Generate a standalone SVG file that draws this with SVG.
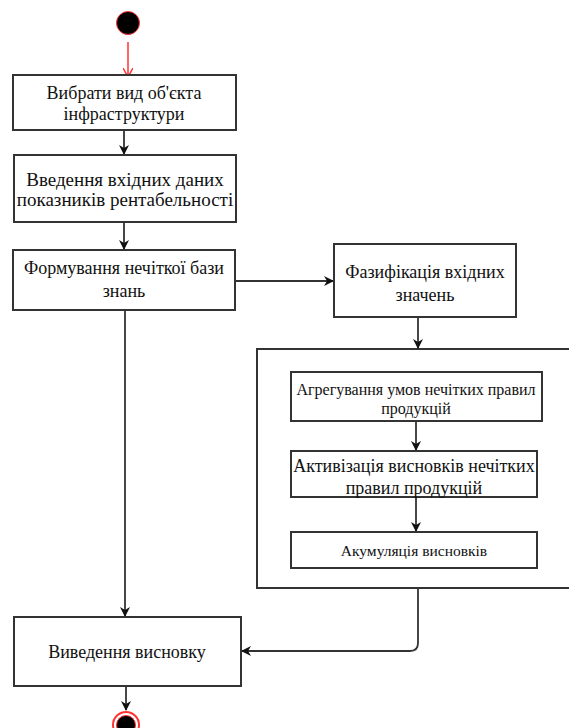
<svg xmlns="http://www.w3.org/2000/svg" width="569" height="728" viewBox="0 0 569 728">
<style>
.box{fill:#fff;stroke:#333;stroke-width:2}
.grp{fill:none;stroke:#333;stroke-width:2}
text{font-family:"Liberation Serif","DejaVu Serif",serif;font-size:18px;fill:#111;text-anchor:middle}
.c{fill:none;stroke:#333;stroke-width:1.8}
</style>
<defs>
<marker id="a" viewBox="0 0 10 10" refX="9" refY="5" markerWidth="10" markerHeight="10" markerUnits="userSpaceOnUse" orient="auto">
<path d="M0,0 L10,5 L0,10 L3,5 Z" fill="#111"/>
</marker>
<marker id="r" viewBox="0 0 10 10" refX="9" refY="5" markerWidth="10" markerHeight="10" markerUnits="userSpaceOnUse" orient="auto">
<path d="M0,0 L9,5 L0,10" fill="none" stroke="#f33" stroke-width="1.5"/>
</marker>
</defs>
<g id="group"><rect class="grp" x="257" y="349" width="320" height="239"/></g>
<g id="connectors">
<line x1="128" y1="42" x2="128" y2="77" stroke="#f33" stroke-width="1.5" marker-end="url(#r)"/>
<line class="c" x1="124" y1="131" x2="124" y2="154" marker-end="url(#a)"/>
<line class="c" x1="124" y1="223" x2="124" y2="249" marker-end="url(#a)"/>
<line class="c" x1="235" y1="281" x2="333" y2="281" marker-end="url(#a)"/>
<line class="c" x1="418" y1="318" x2="418" y2="348" marker-end="url(#a)"/>
<line class="c" x1="416" y1="422" x2="416" y2="450" marker-end="url(#a)"/>
<line class="c" x1="416" y1="498" x2="416" y2="531" marker-end="url(#a)"/>
<line class="c" x1="125" y1="311" x2="125" y2="616" marker-end="url(#a)"/>
<path class="c" d="M418,589 V643 Q418,651 410,651 H242" marker-end="url(#a)"/>
<line class="c" x1="126" y1="687" x2="126" y2="710" marker-end="url(#a)"/>
</g>
<g id="start"><circle cx="128" cy="23" r="11.5" fill="#000" stroke="#f33" stroke-width="1"/></g>
<g id="n1"><rect class="box" x="13" y="75" width="223" height="55"/>
<text x="124" y="99">Вибрати вид об'єкта</text><text x="124" y="120">інфраструктури</text></g>
<g id="n2"><rect class="box" x="14" y="155" width="222" height="67"/>
<text x="125" y="186" style="font-size:19px">Введення вхідних даних</text><text x="125" y="206" style="font-size:19px">показників рентабельності</text></g>
<g id="n3"><rect class="box" x="13" y="250" width="222" height="60"/>
<text x="124" y="274">Формування нечіткої бази</text><text x="124" y="297">знань</text></g>
<g id="n4"><rect class="box" x="334" y="244" width="182" height="73"/>
<text x="425" y="278">Фазифікація вхідних</text><text x="425" y="301">значень</text></g>
<g id="n5"><rect class="box" x="291" y="372" width="251" height="49"/>
<text x="416" y="395" style="font-size:16px">Агрегування умов нечітких правил</text><text x="416" y="414" style="font-size:16px">продукцій</text></g>
<g id="n6"><rect class="box" x="291" y="451" width="246" height="46"/>
<text x="414" y="472">Активізація висновків нечітких</text><text x="414" y="494">правил продукцій</text></g>
<g id="n7"><rect class="box" x="291" y="532" width="246" height="36"/>
<text x="414" y="556" style="font-size:15.5px">Акумуляція висновків</text></g>
<g id="n8"><rect class="box" x="14" y="617" width="227" height="69"/>
<text x="127" y="658">Виведення висновку</text></g>
<g id="end"><circle cx="126" cy="725" r="13" fill="#fff" stroke="#f33" stroke-width="2"/><circle cx="126" cy="725" r="9.5" fill="#000" stroke="#f33" stroke-width="1"/></g>
</svg>
